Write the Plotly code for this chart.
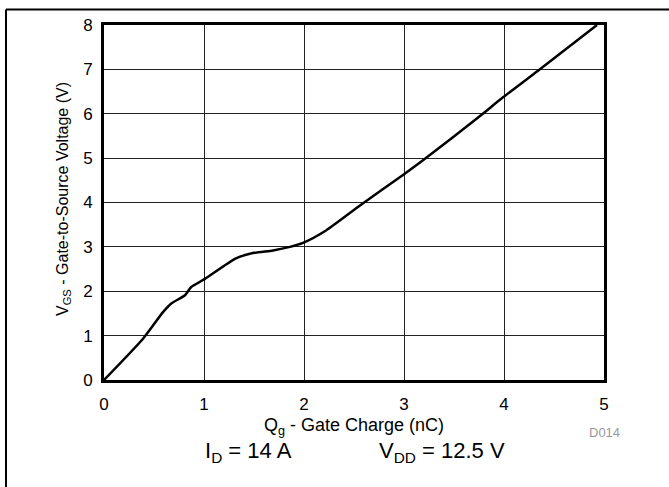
import plotly.graph_objects as go

# Gate charge curve
qg_nc = [0.0, 0.39, 0.59, 0.67, 0.81, 0.87, 1.01, 1.32, 1.49, 1.69, 1.86, 1.99,
         2.22, 2.57, 2.99, 3.19, 3.76, 3.99, 4.34, 4.93]
vgs_v = [0.0, 0.93, 1.53, 1.72, 1.91, 2.09, 2.28, 2.74, 2.86, 2.92, 3.00, 3.09,
         3.37, 3.95, 4.62, 4.95, 5.95, 6.37, 6.97, 8.0]

x_ticks = [0, 1, 2, 3, 4, 5]
y_ticks = [0, 1, 2, 3, 4, 5, 6, 7, 8]

x_title = "Q<sub>g</sub> - Gate Charge (nC)"
y_title = "V<sub>GS</sub> - Gate-to-Source Voltage (V)"
cond_labels = ["I<sub>D</sub> = 14 A", "V<sub>DD</sub> = 12.5 V"]

W, H = 669, 487
ML, MR, MT, MB = 104, 65, 25, 107
PW, PH = W - ML - MR, H - MT - MB

def px_x(p):
    return (p - ML) / PW

def px_y(p):
    return (H - MB - p) / PH

FONT = "Liberation Sans, Arial, sans-serif"

fig = go.Figure()
fig.add_trace(go.Scatter(x=qg_nc, y=vgs_v, mode="lines",
                         line=dict(color="black", width=2.5, shape="spline", smoothing=0.6),
                         showlegend=False, hoverinfo="skip"))

fig.update_xaxes(range=[0, 5], tickvals=x_ticks, showgrid=True, gridcolor="#222",
                 gridwidth=1, showline=True, linecolor="black", linewidth=3, mirror=True,
                 zeroline=False, ticks="", ticklabelstandoff=7,
                 tickfont=dict(family=FONT, size=17, color="black"))
fig.update_yaxes(range=[0, 8], tickvals=y_ticks, showgrid=True, gridcolor="#222",
                 gridwidth=1, showline=True, linecolor="black", linewidth=3, mirror=True,
                 zeroline=False, ticks="", ticklabelstandoff=5,
                 tickfont=dict(family=FONT, size=17, color="black"))

# axis titles
fig.add_annotation(x=px_x(354), y=px_y(426), xref="paper", yref="paper",
                   xanchor="center", yanchor="middle", text=x_title, showarrow=False,
                   font=dict(family=FONT, size=18, color="black"))
fig.add_annotation(x=px_x(63), y=px_y(199), xref="paper", yref="paper",
                   xanchor="center", yanchor="middle", textangle=-90,
                   text=y_title, showarrow=False,
                   font=dict(family=FONT, size=16, color="black"))

for txt, xp in zip(cond_labels, [248, 442]):
    fig.add_annotation(x=px_x(xp), y=px_y(452), xref="paper", yref="paper",
                       xanchor="center", yanchor="middle",
                       text=txt, showarrow=False,
                       font=dict(family=FONT, size=22, color="black"))
fig.add_annotation(x=px_x(604), y=px_y(432), xref="paper", yref="paper",
                   xanchor="center", yanchor="middle",
                   text="D014", showarrow=False,
                   font=dict(family=FONT, size=13, color="#999"))

# outer frame lines
fig.add_shape(type="line", xref="paper", yref="paper", x0=px_x(6), x1=px_x(669),
              y0=px_y(9.5), y1=px_y(9.5), line=dict(color="black", width=2))
fig.add_shape(type="line", xref="paper", yref="paper", x0=px_x(6), x1=px_x(6),
              y0=px_y(9.5), y1=px_y(487), line=dict(color="black", width=2))

fig.update_layout(width=W, height=H, margin=dict(l=ML, r=MR, t=MT, b=MB),
                  paper_bgcolor="white", plot_bgcolor="white")

fig.write_html("out.html", config={"displayModeBar": False},
               post_script="document.body.style.margin='0';")
